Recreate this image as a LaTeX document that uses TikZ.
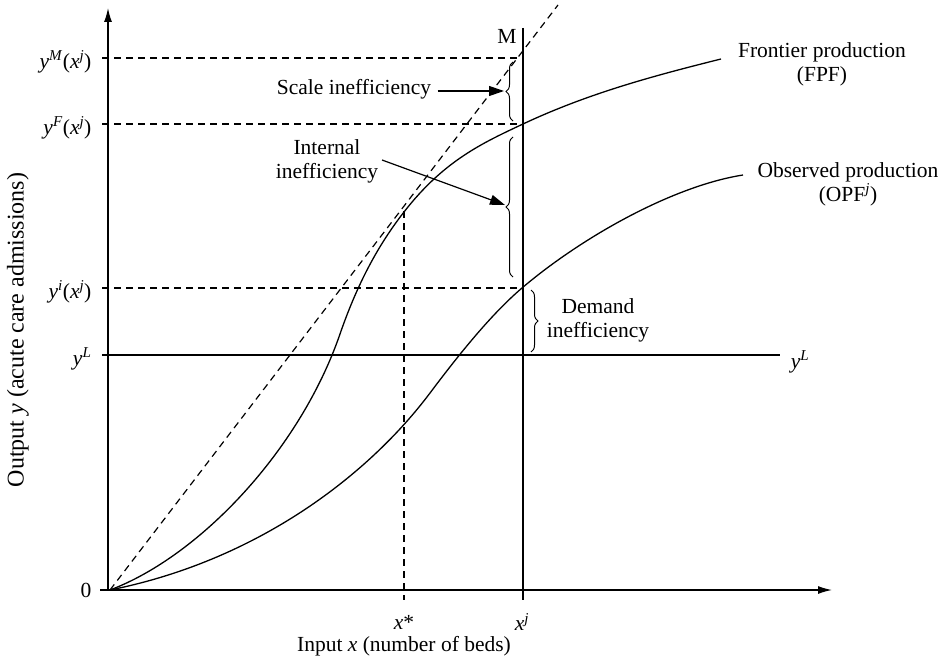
\documentclass[tikz,border=0pt]{standalone}
\usepackage{fontspec}
\setmainfont{Liberation Serif}
\usetikzlibrary{arrows.meta,decorations.pathreplacing}
\newcommand{\vi}[1]{\textit{#1}}
\newcommand{\sps}[1]{\textsuperscript{\textit{#1}}}
\begin{document}
\begin{tikzpicture}[x=1pt,y=-1pt,
  font=\fontsize{21.5}{24}\selectfont,
  line width=1.2pt,
  axis/.style={line width=1.3pt,-{Latex[length=14pt,width=8pt]}},
  dline/.style={dash pattern=on 7pt off 5pt},
  crv/.style={line width=1.3pt},
  brc/.style={decorate,decoration={brace,amplitude=7pt},line width=1pt},
  pointer/.style={-{Triangle[length=15pt,width=10pt]}},
  lbl/.style={inner sep=2pt}]
\useasboundingbox (0,0) rectangle (948,658);
% key coordinates
\coordinate (O) at (110,590);
\coordinate (xs) at (100,590);
\coordinate (xe) at (832,590);
\coordinate (ys) at (108,590);
\coordinate (ye) at (108,8);
\coordinate (Mtop) at (523,28);
\coordinate (Mbot) at (523,600);
\coordinate (Stop) at (404,211);
\coordinate (Sbot) at (404,600);
\coordinate (yM0) at (102,58);
\coordinate (yM1) at (523,58);
\coordinate (yF0) at (102,124);
\coordinate (yF1) at (523,124);
\coordinate (yi0) at (102,288);
\coordinate (yi1) at (523,288);
\coordinate (yL0) at (102,355);
\coordinate (yL1) at (780,355);
\coordinate (diagEnd) at (558,5);
% curve anchor points
\coordinate (fA) at (340,334);
\coordinate (fT) at (404,212);
\coordinate (fJ) at (523,124);
\coordinate (fE) at (721,59);
\coordinate (oA) at (430,393);
\coordinate (oJ) at (522,288);
\coordinate (oE) at (743,175);
% axes
\draw[axis] (xs) -- (xe);
\draw[axis] (ys) -- (ye);
% horizontal guides
\draw[dline] (yM0) -- (yM1);
\draw[dline] (yF0) -- (yF1);
\draw[dline] (yi0) -- (yi1);
\draw (yL0) -- (yL1);
% verticals
\draw (Mtop) -- (Mbot);
\draw[dline] (Stop) -- (Sbot);
% ray from origin
\draw[dline] (O) -- (diagEnd);
% frontier production function
\draw[crv] (O) .. controls (200,556) and (300,450) .. (fA)
  .. controls (358,282) and (379,244) .. (fT)
  .. controls (444,160.4) and (483,142.8) .. (fJ)
  .. controls (589,93) and (655,75.5) .. (fE);
% observed production function
\draw[crv] (O) .. controls (260,560) and (370,473) .. (oA)
  .. controls (460,353) and (492,313.5) .. (oJ)
  .. controls (582,237) and (673,186) .. (oE);
% axis labels
\node[lbl,anchor=east] (l0) at (94,590) {0};
\node[lbl,anchor=east] (lyM) at (94,62) {\vi{y}\sps{M}(\vi{x}\sps{j})};
\node[lbl,anchor=east] (lyF) at (94,128) {\vi{y}\sps{F}(\vi{x}\sps{j})};
\node[lbl,anchor=east] (lyi) at (94,292) {\vi{y}\sps{i}(\vi{x}\sps{j})};
\node[lbl,anchor=east] (lyL) at (94,359) {\vi{y}\sps{L}};
\node[lbl] (lyLr) at (800,362) {\vi{y}\sps{L}};
\node[lbl] (lxs) at (404,622) {\vi{x}*};
\node[lbl] (lxj) at (522,622) {\vi{x}\sps{j}};
\node[lbl] (lxax) at (404,646) {Input \vi{x} (number of beds)};
\node[lbl,rotate=90,font=\fontsize{24}{28}\selectfont] (lyax) at (18,330) {Output \vi{y} (acute care admissions)};
\node[lbl] (lM) at (507,36) {M};
% curve labels
\node[lbl,align=center] (lFPF) at (822,64) {Frontier production\\(FPF)};
\node[lbl,align=center] (lOPF) at (848,184) {Observed production\\(OPF\sps{j})};
% braces
\coordinate (b1a) at (513,121);
\coordinate (b1b) at (513,62);
\coordinate (b2a) at (513,277);
\coordinate (b2b) at (513,137);
\coordinate (b3a) at (531,290);
\coordinate (b3b) at (531,352);
\draw[brc] (b1a) -- (b1b);
\draw[brc] (b2a) -- (b2b);
\draw[brc] (b3a) -- (b3b);
% annotations
\node[lbl] (tscale) at (354,89) {Scale inefficiency};
\coordinate (scaletip) at (504,91);
\draw[pointer] (tscale.east) ++(4,2) -- (scaletip);
\node[lbl,align=center] (tint) at (327,161) {Internal\\inefficiency};
\coordinate (intstart) at (382,160);
\coordinate (inttip) at (505,205);
\draw[pointer] (intstart) -- (inttip);
\node[lbl,align=center] (tdem) at (598,320) {Demand\\inefficiency};
\end{tikzpicture}
\end{document}
